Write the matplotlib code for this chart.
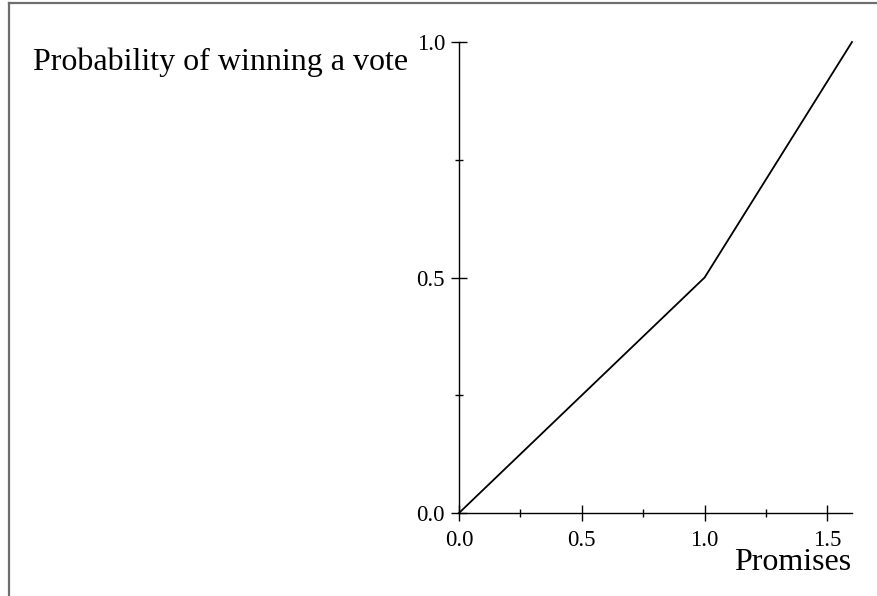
import matplotlib
matplotlib.use("Agg")
import matplotlib.pyplot as plt
from matplotlib.ticker import MultipleLocator
from matplotlib.lines import Line2D

promises = [0.0, 1.0, 1.6]
prob_win = [0.0, 0.5, 1.0]
x_ticks = [0.0, 0.5, 1.0, 1.5]
y_ticks = [0.0, 0.5, 1.0]

W, H = 877, 596
fig = plt.figure(figsize=(W / 100, H / 100), dpi=100)
plt.rcParams['font.family'] = ['Liberation Serif', 'DejaVu Serif']

ax = fig.add_axes([459 / W, 1 - 513 / H, (852 - 459) / W, (513 - 42) / H])
ax.plot(promises, prob_win, color='black', lw=1.3, solid_joinstyle='miter', clip_on=False)
ax.set_xlim(0, 1.6)
ax.set_ylim(0, 1.0)
ax.set_xticks(x_ticks)
ax.set_yticks(y_ticks)
ax.set_xticklabels([f"{v:.1f}" for v in x_ticks])
ax.set_yticklabels([f"{v:.1f}" for v in y_ticks])
ax.xaxis.set_minor_locator(MultipleLocator(0.25))
ax.yaxis.set_minor_locator(MultipleLocator(0.25))
for s in ['top', 'right']:
    ax.spines[s].set_visible(False)
for s in ['left', 'bottom']:
    ax.spines[s].set_linewidth(1.0)
ax.tick_params(which='major', direction='inout', length=11, width=1.0, labelsize=16.5)
ax.tick_params(which='minor', direction='inout', length=5.5, width=1.0)
ax.tick_params(axis='x', which='major', pad=7)
ax.tick_params(axis='y', which='major', pad=4.5)
ax.set_facecolor('none')

fig.text(33 / W, 1 - 70 / H, "Probability of winning a vote", fontsize=23, ha='left', va='baseline')
fig.text(851 / W, 1 - 570 / H, "Promises", fontsize=23, ha='right', va='baseline')

# partial frame (left and top edges)
fig.add_artist(Line2D([8.5 / W, 8.5 / W], [0, 1 - 3 / H], transform=fig.transFigure, color='#6e6e6e', lw=1.6))
fig.add_artist(Line2D([8.5 / W, 1], [1 - 3 / H, 1 - 3 / H], transform=fig.transFigure, color='#6e6e6e', lw=1.6))

fig.savefig("out.png", dpi=100)
